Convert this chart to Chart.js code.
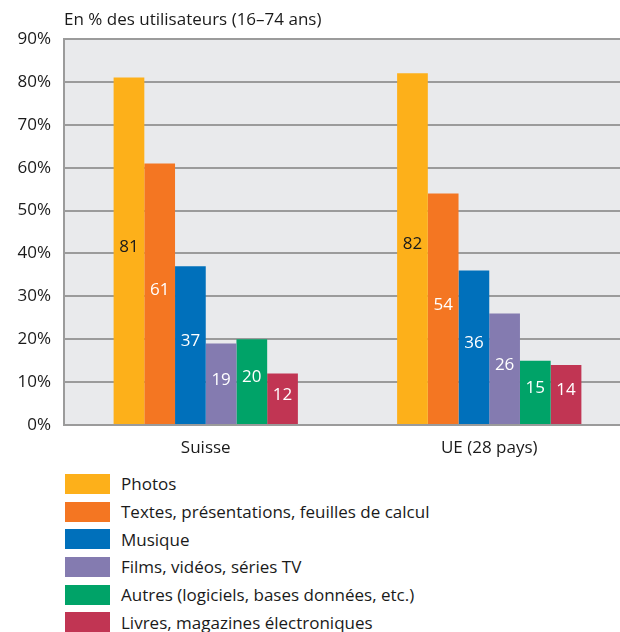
<!DOCTYPE html>
<html lang="fr">
<head>
<meta charset="utf-8">
<script src="https://cdn.jsdelivr.net/npm/chart.js@4/dist/chart.umd.min.js"></script>
<style>
  html, body { margin: 0; padding: 0; background: #fff; overflow: hidden; }
  body { width: 620px; height: 632px; position: relative; font-family: "Open Sans", sans-serif; color: #1a1a1a; }
  #wrap { position: absolute; left: 0; top: 0; width: 631px; height: 470px; }
  #legend { position: absolute; left: 65px; top: 470px; }
  .item { height: 27.7px; display: flex; align-items: center; font-size: 17px; white-space: nowrap; }
  .box { width: 45px; height: 20px; margin-right: 11px; flex: none; }
</style>
</head>
<body>
<div id="wrap"><canvas id="c" width="631" height="470"></canvas></div>
<div id="legend"></div>
<script>
// Share of users (16–74) by type of content stored online
const categories = ['Suisse', 'UE (28 pays)'];
const seriesNames = [
  'Photos',
  'Textes, présentations, feuilles de calcul',
  'Musique',
  'Films, vidéos, séries TV',
  'Autres (logiciels, bases données, etc.)',
  'Livres, magazines électroniques'
];
const photos  = [81, 82];
const textes  = [61, 54];
const musique = [37, 36];
const films   = [19, 26];
const autres  = [20, 15];
const livres  = [12, 14];
const yTicks = [0, 10, 20, 30, 40, 50, 60, 70, 80, 90];

const colors = ['#fdb01a', '#f47622', '#0070bb', '#847bb0', '#00a368', '#c13553'];
const labelColors = ['#1a1a1a', '#fff', '#fff', '#fff', '#fff', '#fff'];
const values = [photos, textes, musique, films, autres, livres];

const FONT = '"Open Sans", sans-serif';

// Value labels in the middle of each bar, plus the unit line above the plot
const barLabels = {
  id: 'barLabels',
  afterDatasetsDraw(chart) {
    const ctx = chart.ctx;
    ctx.save();
    ctx.font = '17px ' + FONT;
    ctx.textAlign = 'center';
    ctx.textBaseline = 'middle';
    chart.data.datasets.forEach((ds, i) => {
      chart.getDatasetMeta(i).data.forEach((bar, j) => {
        ctx.fillStyle = labelColors[i];
        ctx.fillText(String(ds.data[j]), bar.x, (bar.y + bar.base) / 2 - 4);
      });
    });
    ctx.fillStyle = '#1a1a1a';
    ctx.font = '17px ' + FONT;
    ctx.textAlign = 'left';
    ctx.textBaseline = 'alphabetic';
    ctx.fillText('En % des utilisateurs (16–74 ans)', chart.chartArea.left, 25);
    ctx.restore();
  }
};

// Grey plot background
const plotBg = {
  id: 'plotBg',
  beforeDraw(chart) {
    const a = chart.chartArea;
    chart.ctx.save();
    chart.ctx.fillStyle = '#e9eaec';
    chart.ctx.fillRect(a.left, a.top, a.right - a.left, a.bottom - a.top);
    chart.ctx.restore();
  }
};

const chart = new Chart(document.getElementById('c'), {
  type: 'bar',
  data: {
    labels: categories,
    datasets: seriesNames.map((name, i) => ({
      label: name,
      data: values[i],
      backgroundColor: colors[i],
      borderWidth: 0,
      barPercentage: 1,
      categoryPercentage: 0.65
    }))
  },
  options: {
    responsive: false,
    animation: false,
    layout: { padding: { top: 39, right: 0, left: 0, bottom: 0 } },
    plugins: { legend: { display: false }, tooltip: { enabled: false } },
    scales: {
      x: {
        grid: { display: false },
        border: { color: '#9b9b9b', width: 2 },
        ticks: { color: '#1a1a1a', font: { family: FONT, size: 17 }, padding: 5 },
        afterFit(s) { s.height = 45; }
      },
      y: {
        min: 0, max: 90,
        afterBuildTicks(s) { s.ticks = yTicks.map(v => ({ value: v })); },
        grid: { color: '#9b9b9b', lineWidth: 2, drawTicks: false },
        border: { color: '#9b9b9b', width: 2 },
        ticks: { color: '#1a1a1a', font: { family: FONT, size: 17 }, padding: 13, callback: v => v + '%' },
        afterFit(s) { s.width = 64; }
      }
    }
  },
  plugins: [plotBg, barLabels]
});

// Legend list, one entry per line
const legend = document.getElementById('legend');
chart.data.datasets.forEach(ds => {
  const row = document.createElement('div');
  row.className = 'item';
  const box = document.createElement('span');
  box.className = 'box';
  box.style.background = ds.backgroundColor;
  const txt = document.createElement('span');
  txt.textContent = ds.label;
  row.appendChild(box);
  row.appendChild(txt);
  legend.appendChild(row);
});
</script>
</body>
</html>
